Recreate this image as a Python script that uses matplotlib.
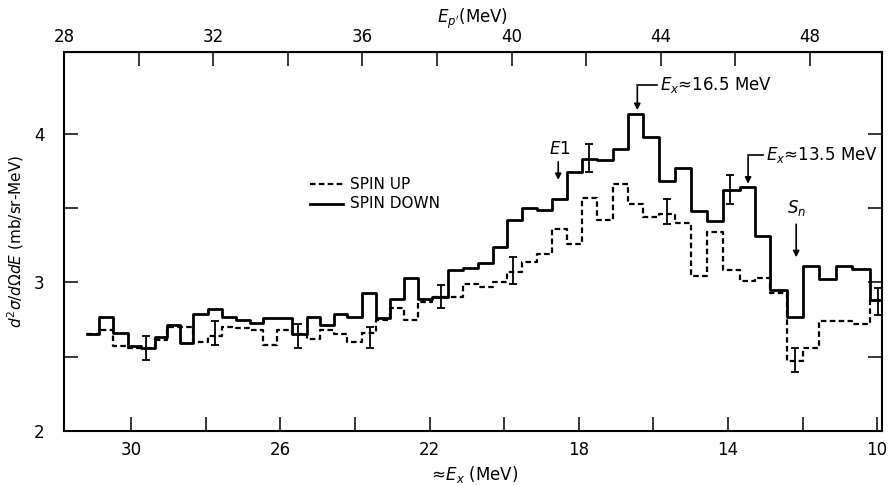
import matplotlib.pyplot as plt
import numpy as np

plt.rcParams['font.family'] = ['DejaVu Sans']
plt.rcParams['mathtext.fontset'] = 'dejavusans'

# bin edges, approx Ex (MeV)
edges = [31.18, 30.86, 30.48, 30.08, 29.73, 29.36, 29.03, 28.69, 28.34, 27.94,
         27.56, 27.18, 26.81, 26.46, 26.09, 25.68, 25.28, 24.93, 24.56, 24.21,
         23.81, 23.43, 23.06, 22.68, 22.31, 21.93, 21.50, 21.10, 20.70, 20.29,
         19.92, 19.52, 19.12, 18.71, 18.31, 17.91, 17.51, 17.08, 16.68, 16.27,
         15.84, 15.42, 14.99, 14.56, 14.13, 13.67, 13.27, 12.87, 12.41, 11.98,
         11.55, 11.10, 10.67, 10.19, 9.87]

spin_down = [2.65, 2.77, 2.66, 2.57, 2.56, 2.63, 2.71, 2.59, 2.79, 2.82,
             2.77, 2.75, 2.73, 2.76, 2.76, 2.65, 2.77, 2.71, 2.79, 2.77,
             2.93, 2.76, 2.89, 3.03, 2.89, 2.90, 3.08, 3.10, 3.13, 3.24,
             3.42, 3.50, 3.49, 3.56, 3.74, 3.83, 3.82, 3.90, 4.13, 3.98,
             3.68, 3.77, 3.48, 3.41, 3.62, 3.64, 3.31, 2.95, 2.77, 3.11,
             3.02, 3.11, 3.09, 2.88]

spin_up = [2.65, 2.68, 2.57, 2.56, 2.56, 2.61, 2.70, 2.70, 2.60, 2.64,
           2.70, 2.69, 2.68, 2.58, 2.68, 2.65, 2.62, 2.68, 2.65, 2.60,
           2.66, 2.75, 2.83, 2.75, 2.87, 2.90, 2.90, 2.99, 2.97, 3.00,
           3.07, 3.14, 3.19, 3.36, 3.26, 3.57, 3.42, 3.66, 3.53, 3.44,
           3.46, 3.40, 3.04, 3.34, 3.08, 3.01, 3.03, 2.93, 2.47, 2.56,
           2.74, 2.74, 2.72, 2.88]

# error bars: position, low, high
err_x = [29.60, 27.75, 25.52, 23.59, 21.69, 19.76, 17.72, 15.63, 13.94, 12.20, 9.97]
err_lo = [2.48, 2.58, 2.56, 2.56, 2.83, 2.99, 3.74, 3.39, 3.53, 2.40, 2.78]
err_hi = [2.64, 2.74, 2.72, 2.70, 2.98, 3.17, 3.93, 3.56, 3.72, 2.56, 2.96]

EP_SUM = 59.8  # Ep' ~ 59.8 - Ex

fig = plt.figure(figsize=(8.88, 4.86), dpi=100)
ax = fig.add_axes([64 / 888, 55 / 486, 818 / 888, 379 / 486])

ax.step(edges, spin_up + [spin_up[-1]], where='post', color='k', lw=1.6,
        linestyle=(0, (2.5, 1.5)))
ax.step(edges, spin_down + [spin_down[-1]], where='post', color='k', lw=2.0)

lo = np.array(err_lo)
hi = np.array(err_hi)
mid = (lo + hi) / 2
ax.errorbar(err_x, mid, yerr=(hi - lo) / 2, fmt='none', ecolor='k',
            elinewidth=1.3, capsize=3, capthick=1.3)

ax.set_xlim(31.8, 9.87)
ax.set_ylim(2, 4.55)
ax.set_xticks(np.arange(30, 9, -2))
ax.set_xticklabels(['30', '', '26', '', '22', '', '18', '', '14', '', '10'])
ax.set_yticks([2, 2.5, 3, 3.5, 4])
ax.set_yticklabels(['2', '', '3', '', '4'])
ax.tick_params(direction='in', length=10, width=1.1, labelsize=12,
               right=True, pad=7)
ax.tick_params(axis='y', pad=14)
for s in ax.spines.values():
    s.set_linewidth(1.5)

top = ax.secondary_xaxis('top', functions=(lambda x: EP_SUM - x,
                                           lambda x: EP_SUM - x))
top.set_xticks(np.arange(28, 50, 2))
top.set_xticklabels(['28', '', '32', '', '36', '', '40', '', '44', '', '48'])
top.tick_params(direction='in', length=10, width=1.1, labelsize=12, pad=4)
top.set_xlabel(r"$E_{p'}$(MeV)", fontsize=12, labelpad=4)

ax.set_xlabel(r"$\approx\!E_x$ (MeV)", fontsize=12, labelpad=4)
ax.set_ylabel(r"$d^2\sigma/d\Omega dE$ (mb/sr-MeV)", fontsize=11, labelpad=6)

# legend drawn by hand
ax.plot([25.20, 24.32], [3.66, 3.66], color='k', lw=1.6, linestyle=(0, (2.5, 1.5)))
ax.plot([25.20, 24.32], [3.53, 3.53], color='k', lw=2.0)
ax.text(24.13, 3.66, 'SPIN UP', fontsize=11, va='center')
ax.text(24.13, 3.53, 'SPIN DOWN', fontsize=11, va='center')

arrow = dict(arrowstyle='-|>', color='k', lw=1.2, mutation_scale=9)

# E1
ax.text(18.50, 3.90, r'$E$1', fontsize=12, ha='center', va='center')
ax.annotate('', xy=(18.55, 3.67), xytext=(18.55, 3.83), arrowprops=arrow)

# Ex ~ 16.5 MeV
ax.plot([16.43, 15.90], [4.33, 4.33], color='k', lw=1.2)
ax.annotate('', xy=(16.43, 4.14), xytext=(16.43, 4.335), arrowprops=arrow)
ax.text(15.82, 4.33, r'$E_x$≈16.5 MeV', fontsize=12, va='center')

# Ex ~ 13.5 MeV
ax.plot([13.46, 13.05], [3.86, 3.86], color='k', lw=1.2)
ax.annotate('', xy=(13.46, 3.645), xytext=(13.46, 3.865), arrowprops=arrow)
ax.text(12.98, 3.86, r'$E_x$≈13.5 MeV', fontsize=12, va='center')

# Sn
ax.text(12.15, 3.50, r'$S_n$', fontsize=12, ha='center', va='center')
ax.annotate('', xy=(12.17, 3.15), xytext=(12.17, 3.41), arrowprops=arrow)

plt.savefig('out.png', dpi=100)
